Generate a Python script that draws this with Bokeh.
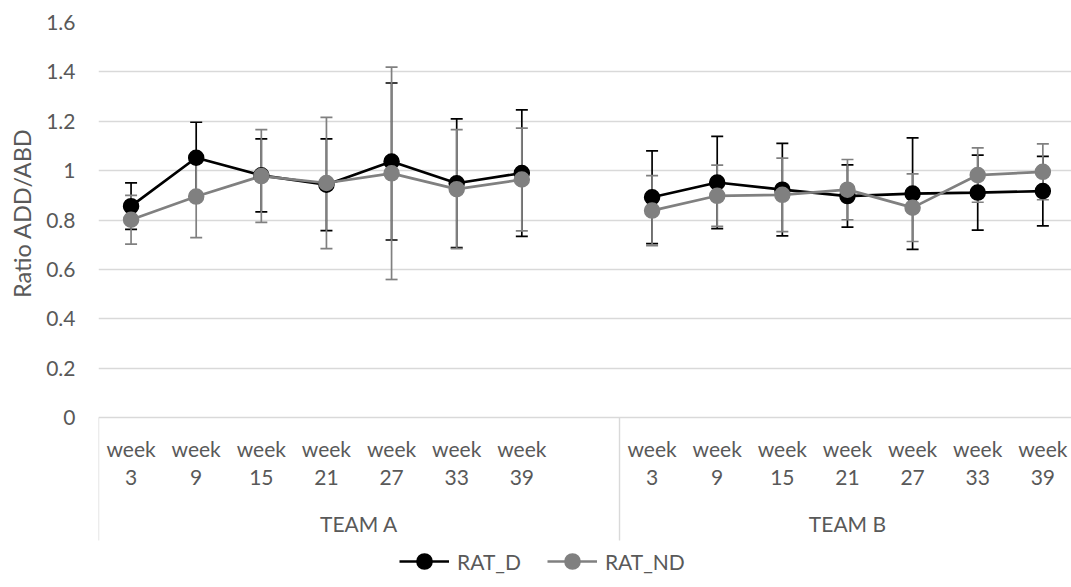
from bokeh.plotting import figure
from bokeh.models import Range1d, FixedTicker, Legend, LegendItem, Title
from bokeh.core.properties import value
from bokeh.embed import file_html
from bokeh.resources import INLINE

# ---------------- data ----------------
teams = ["TEAM A", "TEAM B"]
weeks = ["3", "9", "15", "21", "27", "33", "39"]

rat_d_a = [0.856, 1.052, 0.981, 0.943, 1.037, 0.949, 0.990]
rat_d_b = [0.892, 0.952, 0.923, 0.897, 0.907, 0.911, 0.917]
rat_d_err_a = [0.094, 0.144, 0.148, 0.186, 0.318, 0.261, 0.256]
rat_d_err_b = [0.188, 0.187, 0.187, 0.126, 0.226, 0.152, 0.141]

rat_nd_a = [0.801, 0.895, 0.978, 0.950, 0.989, 0.925, 0.964]
rat_nd_b = [0.838, 0.898, 0.902, 0.923, 0.850, 0.982, 0.995]
rat_nd_err_a = [0.099, 0.166, 0.188, 0.266, 0.430, 0.241, 0.208]
rat_nd_err_b = [0.142, 0.124, 0.149, 0.122, 0.137, 0.110, 0.113]

yticks = [0, 0.2, 0.4, 0.6, 0.8, 1, 1.2, 1.4, 1.6]
ytick_labels = ["0", "0.2", "0.4", "0.6", "0.8", "1", "1.2", "1.4", "1.6"]
series_names = ["RAT_D", "RAT_ND"]
y_title = "Ratio ADD/ABD"

# ---------------- layout helpers ----------------
FONT = value("Lato")
FS = "21px"
TXT = "#595959"
GRID = "#d9d9d9"
BLACK = "#000000"
GRAY = "#808080"
SLOTS_PER_TEAM = 8  # 7 weeks + one empty slot (as in the source chart)
PX_PER_UNIT = 395 / 1.6

def xpos(t):
    return [t * SLOTS_PER_TEAM + i + 0.5 for i in range(len(weeks))]

p = figure(width=1071, height=587, output_backend="svg", toolbar_location=None,
           x_range=Range1d(0, 14.94), y_range=Range1d(-170 / PX_PER_UNIT, 1.6),
           x_axis_location=None, min_border_left=97, min_border_top=22,
           min_border_right=0, min_border_bottom=0)
p.outline_line_color = None
p.xgrid.visible = False

ya = p.yaxis[0]
ya.ticker = FixedTicker(ticks=yticks)
ya.major_label_overrides = dict(zip([float(v) for v in yticks], ytick_labels))
ya.axis_line_color = None
ya.major_tick_line_color = None
ya.minor_tick_line_color = None
ya.major_tick_out = 0
ya.major_label_standoff = 23
ya.major_label_text_font = "Lato"
ya.major_label_text_font_size = FS
ya.major_label_text_color = TXT

ytitle = Title(text=y_title, align="right", offset=106, vertical_align="middle",
               standoff=13, text_font="Lato", text_font_size="23.5px",
               text_font_style="normal", text_color=TXT)
p.add_layout(ytitle, "left")

p.ygrid.ticker = FixedTicker(ticks=yticks)
p.ygrid.grid_line_color = GRID
p.ygrid.grid_line_width = 1.4

# category axis separators (below y=0)
sep_x = [0, SLOTS_PER_TEAM]
sep_bottom = -123 / PX_PER_UNIT
p.segment(x0=sep_x, y0=[0] * len(sep_x), x1=sep_x, y1=[sep_bottom] * len(sep_x),
          line_color=GRID, line_width=1.4)

# category labels
for t, team in enumerate(teams):
    xs = xpos(t)
    p.text(x=xs, y=[0] * len(xs), text=["week\n" + w for w in weeks],
           y_offset=45, text_align="center", text_baseline="middle",
           text_font=FONT, text_font_size=FS, text_color=TXT,
           text_line_height=1.12)
    p.text(x=[t * SLOTS_PER_TEAM + len(weeks) / 2 + (0.5 if t == 0 else 0)], y=[0],
           text=[team], y_offset=106, text_align="center", text_baseline="middle",
           text_font=FONT, text_font_size=FS, text_color=TXT)

# error bars
def errbars(vals, errs, t, color):
    xs = xpos(t)
    lo = [v - e for v, e in zip(vals, errs)]
    hi = [v + e for v, e in zip(vals, errs)]
    p.segment(x0=xs, y0=lo, x1=xs, y1=hi, line_color=color, line_width=1.7)
    p.scatter(x=xs + xs, y=lo + hi, marker="dash", size=12, line_color=color,
              line_width=1.7)

errbars(rat_d_a, rat_d_err_a, 0, BLACK)
errbars(rat_d_b, rat_d_err_b, 1, BLACK)
errbars(rat_nd_a, rat_nd_err_a, 0, GRAY)
errbars(rat_nd_b, rat_nd_err_b, 1, GRAY)

# lines
lines = {}
for name, va, vb, c in [("RAT_D", rat_d_a, rat_d_b, BLACK), ("RAT_ND", rat_nd_a, rat_nd_b, GRAY)]:
    la = p.line(x=xpos(0), y=va, line_color=c, line_width=2.7)
    p.line(x=xpos(1), y=vb, line_color=c, line_width=2.7)
    lines[name] = la

markers = {}
for name, va, vb, c in [("RAT_D", rat_d_a, rat_d_b, BLACK), ("RAT_ND", rat_nd_a, rat_nd_b, GRAY)]:
    m = p.scatter(x=xpos(0) + xpos(1), y=va + vb, marker="circle", size=15,
                  fill_color=c, line_color=c, line_width=1.5)
    markers[name] = m

legend = Legend(items=[LegendItem(label=n, renderers=[lines[n], markers[n]]) for n in series_names],
                orientation="horizontal", location=(301, 7))
legend.border_line_color = None
legend.background_fill_alpha = 0
legend.padding = 0
legend.margin = 0
legend.spacing = 26
legend.glyph_width = 50
legend.glyph_height = 38
legend.label_standoff = 8
legend.label_text_font = "Lato"
legend.label_text_font_size = FS
legend.label_text_color = TXT
p.add_layout(legend)

open("out.html", "w").write(file_html(p, INLINE))
